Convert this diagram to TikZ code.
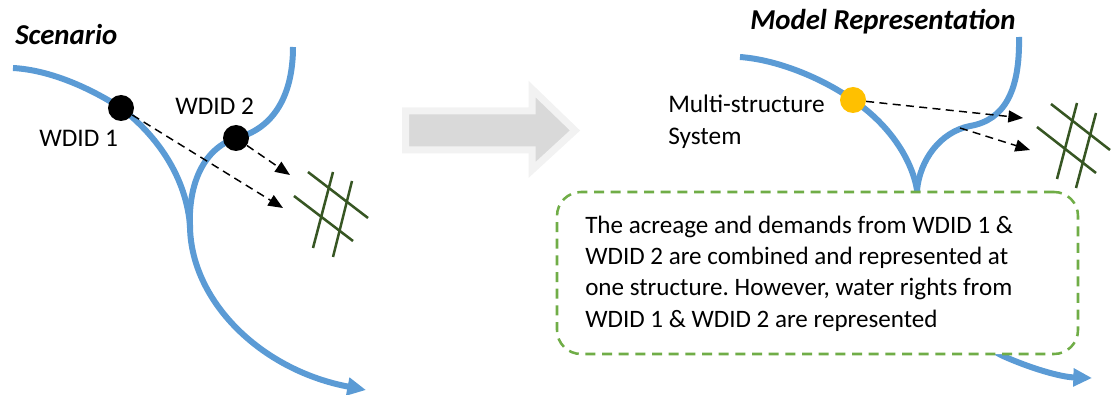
\documentclass[tikz,border=0pt]{standalone}
\usepackage{fontspec}
\setmainfont{Carlito}
\usetikzlibrary{arrows.meta}
\definecolor{riverblue}{HTML}{5B9BD5}
\definecolor{notegreen}{HTML}{70AD47}
\definecolor{hatchgreen}{HTML}{375623}
\definecolor{dotyellow}{HTML}{FFC000}
\definecolor{arrowfill}{HTML}{D9D9D9}
\definecolor{arrowrim}{HTML}{F2F2F2}
\frenchspacing
\begin{document}
\begin{tikzpicture}[x=0.75pt,y=-0.75pt,
  river/.style={draw=riverblue,line width=4.5pt},
  riverend/.style={river,-{Triangle[length=14pt,width=13pt]}},
  dot/.style={circle,minimum size=19.5pt,inner sep=0pt},
  flow/.style={draw=black,line width=1.1pt,dash pattern=on 6pt off 4pt,-{Triangle[length=11pt,width=9pt]}},
  hatch/.style={draw=hatchgreen,line width=1.9pt},
  lbl/.style={inner sep=0pt,anchor=base west,font=\fontsize{19}{23}\selectfont},
  notetext/.style={inner sep=0pt,anchor=base west,font=\fontsize{18.8}{23}\selectfont},
  ttl/.style={inner sep=0pt,anchor=base west,font=\fontsize{21.6}{26}\selectfont\bfseries\itshape},
  notebox/.style={draw=notegreen,line width=1.9pt,dash pattern=on 7.5pt off 5pt,fill=white,
    rounded corners=18pt,minimum width=390.75pt,minimum height=121.5pt,inner sep=0pt},
  bigarrow/.style={fill=arrowfill,draw=arrowrim,line width=5.25pt,line join=miter}
]
\useasboundingbox (0,0) rectangle (1113,395);

% ---------------- Scenario ----------------
\node[ttl] (scenario) at (15,45) {Scenario};
\draw[riverend] (13,68) .. controls (50,70) and (90,88) .. (121,108)
  .. controls (150,130) and (185,170) .. (190,225)
  .. controls (190,300) and (260,370) .. (366,390);
\draw[river] (293,47) .. controls (293,100) and (270,130) .. (236,138)
  .. controls (200,150) and (188,190) .. (190,228);
\coordinate (t1) at (283,208);
\coordinate (t2) at (290,175);
\node[dot,fill=black] (w1) at (121,108) {};
\node[dot,fill=black] (w2) at (236,138) {};
\draw[flow] (w1) -- (t1);
\draw[flow] (w2) -- (t2);
\node[lbl] (w1lbl) at (39,147) {WDID 1};
\node[lbl] (w2lbl) at (175,115) {WDID 2};
\draw[hatch] (308,172) -- (368,218);
\draw[hatch] (294,196) -- (353,241);
\draw[hatch] (333,172) -- (313,248);
\draw[hatch] (352,181) -- (333,257);

% ---------------- big arrow ----------------
\draw[bigarrow] (405.5,111) -- (532,111) -- (532,89) -- (575,130.5)
  -- (532,170) -- (532,150) -- (405.5,150) -- cycle;

% ---------------- Model Representation ----------------
\node[ttl] (model) at (750,30) {Model Representation};
\draw[riverend] (740,57) .. controls (780,60) and (825,80) .. (853,100)
  .. controls (890,125) and (912,160) .. (917,190)
  .. controls (925,300) and (980,345) .. (1003,356)
  .. controls (1030,368) and (1060,377) .. (1092,378);
\draw[river] (1019,37) .. controls (1020,90) and (1005,120) .. (970,126)
  .. controls (940,132) and (920,160) .. (917,190);
\node[dot,fill=dotyellow] (ms) at (853,100) {};
\coordinate (bend) at (960,128);
\coordinate (t3) at (1023,118);
\coordinate (t4) at (1030,150);
\draw[flow] (ms) -- (t3);
\draw[flow] (bend) -- (t4);
\node[lbl] (mslbl1) at (668,113) {Multi-structure};
\node[lbl] (mslbl2) at (668,145) {System};
\draw[hatch] (1051,104) -- (1110,150);
\draw[hatch] (1037,127) -- (1096,173);
\draw[hatch] (1077,103) -- (1057,179);
\draw[hatch] (1096,113) -- (1076,188);

\node[notebox] (note) at (817.5,273) {};
\node[notetext] (n1) at (585,234) {The acreage and demands from WDID 1 \&};
\node[notetext] (n2) at (585,265) {WDID 2 are combined and represented at};
\node[notetext] (n3) at (585,296) {one structure. However, water rights from};
\node[notetext] (n4) at (585,327) {WDID 1 \& WDID 2 are represented};
\end{tikzpicture}
\end{document}
